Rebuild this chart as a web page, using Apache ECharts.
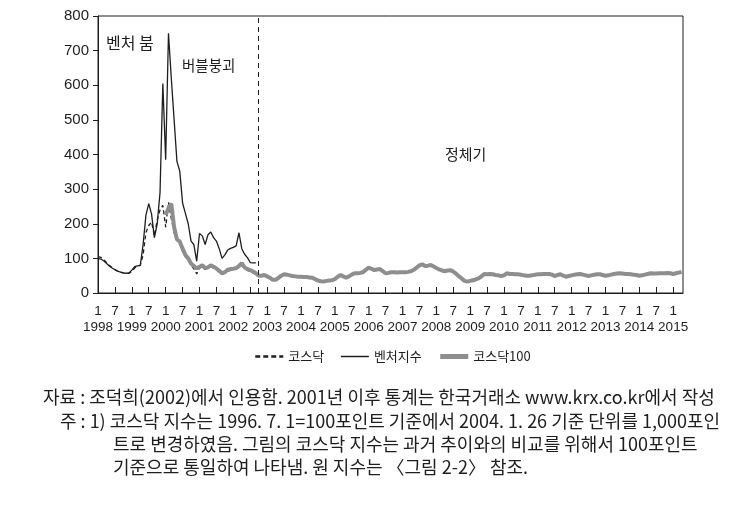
<!DOCTYPE html>
<html><head><meta charset="utf-8">
<script src="https://cdn.jsdelivr.net/npm/echarts@6/dist/echarts.min.js"></script>
<style>html,body{margin:0;padding:0;background:#fff}#c{width:743px;height:505px}</style>
</head><body><div id="c"></div>
<script>
// Monthly data, month index 0 = 1998-01
const startYear = 1998;
const seriesNames = ['코스닥', '벤처지수', '코스닥100'];
const yTickValues = [0, 100, 200, 300, 400, 500, 600, 700, 800];

// 코스닥 (dashed), 1998-01 .. 2002-09
const kosdaq = [].concat(
  [105, 103, 97, 88, 80, 73, 68, 63, 60, 58, 57, 57],      // 1998
  [62, 72, 78, 80, 110, 175, 195, 205, 165, 210, 240, 253], // 1999
  [190, 262, 215, 175, 150, 145, 120, 105, 95, 80, 70, 55], // 2000
  [72, 75, 68, 72, 76, 72, 67, 60, 54, 57, 63, 65],         // 2001
  [67, 69, 74, 80, 70, 65, 62, 58, 54]                      // 2002
);
// 벤처지수 (solid), 1998-01 .. 2002-09
const venture = [].concat(
  [100, 98, 93, 86, 78, 72, 67, 63, 60, 58, 57, 58],
  [66, 76, 78, 80, 140, 225, 258, 228, 160, 200, 290, 605],
  [385, 750, 620, 500, 380, 352, 260, 230, 200, 150, 140, 92],
  [172, 165, 140, 168, 176, 160, 150, 128, 100, 110, 124, 129],
  [132, 136, 174, 128, 112, 102, 88, 87, 87]
);
// 코스닥100 (thick gray), starts 2000-01 (month index 24) .. 2015-04
const kosdaq100Start = 24;
const kosdaq100 = [].concat(
  [225, 245, 258, 190, 155, 149, 128, 110, 100, 85, 78, 71], // 2000
  [76, 80, 72, 74, 80, 76, 71, 64, 57, 60, 67, 69],          // 2001
  [70, 72, 78, 86, 74, 69, 66, 62, 57, 50, 50, 52],          // 2002
  [48, 44, 38, 38, 44, 50, 54, 53, 51, 49, 48, 47],          // 2003
  [47, 46, 46, 45, 44, 40, 36, 34, 33, 35, 36, 37],          // 2004
  [40, 47, 52, 48, 44, 48, 53, 57, 57, 58, 60, 67],          // 2005
  [73, 70, 66, 68, 69, 63, 57, 58, 60, 60, 59, 60],          // 2006
  [60, 60, 61, 63, 67, 73, 80, 83, 78, 79, 81, 77],          // 2007
  [72, 68, 65, 63, 65, 66, 62, 56, 48, 42, 35, 33],          // 2008
  [35, 37, 39, 42, 48, 55, 54, 55, 54, 52, 51, 49],          // 2009
  [51, 57, 55, 55, 54, 54, 53, 51, 50, 50, 51, 53],          // 2010
  [54, 54, 55, 55, 55, 53, 49, 52, 54, 50, 47, 49],          // 2011
  [51, 53, 54, 55, 53, 51, 49, 51, 53, 54, 54, 52],          // 2012
  [50, 51, 53, 55, 56, 57, 56, 55, 55, 54, 53, 52],          // 2013
  [50, 51, 53, 55, 57, 56, 56, 57, 57, 57, 58, 57],          // 2014
  [55, 57, 59, 61]                                           // 2015
);
const dividerMonth = 56.8; // 2002 late Sep
const annotations = [
  { text: '벤처 붐', left: 106, top: 35, size: 16 },
  { text: '버블붕괴', left: 182, top: 58, size: 14.5 },
  { text: '정체기', left: 445, top: 147, size: 15 }
];
const captionLines = [
  { text: '자료 : 조덕희(2002)에서 인용함. 2001년 이후 통계는 한국거래소 www.krx.co.kr에서 작성', left: 43, top: 388 },
  { text: '주 : 1) 코스닥 지수는 1996. 7. 1=100포인트 기준에서 2004. 1. 26 기준 단위를 1,000포인', left: 60, top: 412 },
  { text: '트로 변경하였음. 그림의 코스닥 지수는 과거 추이와의 비교를 위해서 100포인트', left: 113, top: 435 },
  { text: '기준으로 통일하여 나타냄. 원 지수는 〈그림 2-2〉 참조.', left: 113, top: 458 }
];

const KR = '"Noto Sans CJK KR", sans-serif';
const NUM = '"Liberation Sans Narrow", "Liberation Sans", sans-serif';
const INK = '#1e1e1e';
const GRAY = '#8e8e8e';
const X_MAX = 207.5;

const chart = echarts.init(document.getElementById('c'));
const toPairs = (arr, offset) => arr.map((v, i) => [i + offset, v]);

chart.setOption({
  animation: false,
  backgroundColor: '#fff',
  grid: { left: 98, top: 16, width: 585, height: 277, show: true, borderColor: INK, borderWidth: 1, outerBoundsMode: 'none' },
  xAxis: [{
    // month ticks: 1 (Jan) and 7 (Jul)
    type: 'value', min: 0, max: X_MAX, interval: 6,
    axisLine: { show: true, lineStyle: { color: INK, width: 1 } },
    axisTick: { show: true, inside: true, length: 6, lineStyle: { color: INK } },
    splitLine: { show: false },
    axisLabel: {
      color: INK, fontFamily: NUM, fontSize: 13.5, margin: 11,
      showMinLabel: true, showMaxLabel: false,
      formatter: v => v % 12 === 0 ? '1' : (v % 12 === 6 ? '7' : '')
    }
  }, {
    // year labels under each January
    type: 'value', min: 0, max: X_MAX, interval: 12, position: 'bottom',
    axisLine: { show: false }, axisTick: { show: false }, splitLine: { show: false },
    axisLabel: {
      color: INK, fontFamily: NUM, fontSize: 13.5, margin: 27,
      showMinLabel: true, showMaxLabel: false,
      formatter: v => v % 12 === 0 ? String(startYear + v / 12) : ''
    }
  }],
  yAxis: {
    type: 'value', min: yTickValues[0], max: yTickValues[yTickValues.length - 1], interval: 100,
    axisLine: { show: true, lineStyle: { color: INK, width: 1 } },
    axisTick: { show: true, inside: false, length: 5, lineStyle: { color: INK } },
    splitLine: { show: false },
    axisLabel: { color: INK, fontFamily: NUM, fontSize: 15, margin: 9 }
  },
  legend: {
    data: [
      { name: seriesNames[0], lineStyle: { width: 2.5, type: [5, 3] } },
      { name: seriesNames[1], lineStyle: { width: 1.5 } },
      { name: seriesNames[2], lineStyle: { width: 5 } }
    ],
    top: 345, left: 249, itemWidth: 28, itemHeight: 12, itemGap: 16,
    itemStyle: { opacity: 0 },
    textStyle: { color: INK, fontFamily: KR, fontSize: 13 }
  },
  series: [
    { name: seriesNames[0], type: 'line', data: toPairs(kosdaq, 0), symbol: 'none', z: 2,
      color: INK, lineStyle: { color: INK, width: 1.3, type: [4, 3] } },
    { name: seriesNames[2], type: 'line', data: toPairs(kosdaq100, kosdaq100Start), symbol: 'none', z: 3,
      color: GRAY, lineStyle: { color: GRAY, width: 4 } },
    { name: seriesNames[1], type: 'line', data: toPairs(venture, 0), symbol: 'none', z: 4,
      color: INK, lineStyle: { color: INK, width: 1.3 },
      markLine: { silent: true, symbol: ['none', 'none'], label: { show: false },
        lineStyle: { color: INK, width: 1, type: [5, 4] }, data: [{ xAxis: dividerMonth }] } }
  ],
  graphic: [].concat(
    annotations.map(a => ({ type: 'text', left: a.left, top: a.top,
      style: { text: a.text, fill: INK, font: a.size + 'px ' + KR } })),
    captionLines.map(c => ({ type: 'text', left: c.left, top: c.top,
      style: { text: c.text, fill: INK, font: '18px ' + KR } }))
  )
});
</script></body></html>
